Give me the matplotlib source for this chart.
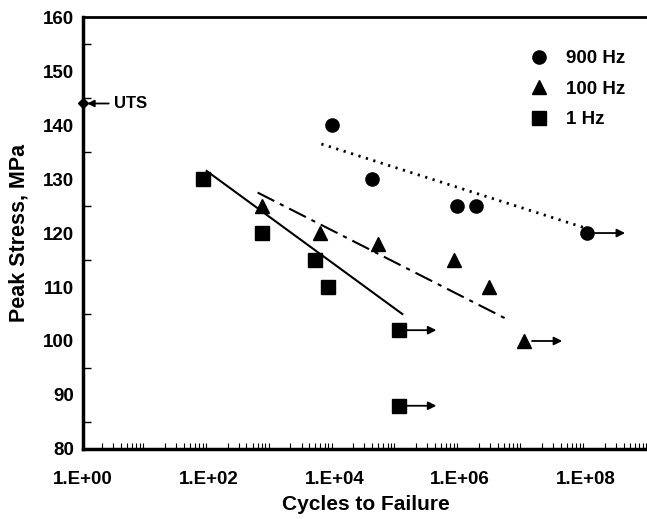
import numpy as np
import matplotlib.pyplot as plt
from matplotlib.ticker import LogLocator, FixedLocator, MultipleLocator

plt.rcParams['font.family'] = ['Liberation Sans', 'DejaVu Sans']
plt.rcParams['font.weight'] = 'bold'

# data
n_900 = [9e3, 4e4, 9e5, 1.8e6, 1.05e8]
s_900 = [140, 130, 125, 125, 120]
n_100 = [700, 6e3, 5e4, 8e5, 2.9e6, 1.05e7]
s_100 = [125, 120, 118, 115, 110, 100]
n_1 = [80, 700, 5e3, 8e3, 1.05e5, 1.05e5]
s_1 = [130, 120, 115, 110, 102, 88]

# runouts (arrow to the right)
run_n = [1.05e8, 1.05e7, 1.05e5, 1.05e5]
run_s = [120, 100, 102, 88]

# trend lines
fit_1_n = [93, 1.2e5]
fit_1_s = [131.5, 105]
fit_100_n = [600, 5.6e6]
fit_100_s = [127.5, 104]
fit_900_n = [6.2e3, 9.3e7]
fit_900_s = [136.5, 121]

uts_n = 1.0
uts_s = 144

fig = plt.figure(figsize=(6.47, 5.19), dpi=100)
ax = fig.add_axes([0.128, 0.135, 0.875, 0.832])

ax.plot(fit_1_n, fit_1_s, 'k-', lw=1.5)
ax.plot(fit_100_n, fit_100_s, color='k', lw=1.5, ls=(0, (9, 3, 2, 3)))
ax.plot(fit_900_n, fit_900_s, color='k', lw=2, ls=(0, (0.8, 2)))

ax.plot(n_900, s_900, 'ko', ms=9.5, ls='none', label='900 Hz')
ax.plot(n_100, s_100, 'k^', ms=9.5, ls='none', label='100 Hz')
ax.plot(n_1, s_1, 'ks', ms=9.5, ls='none', label='1 Hz')

for n, s in zip(run_n, run_s):
    ax.annotate('', xy=(n * 10**0.6, s), xytext=(n * 10**0.12, s),
                arrowprops=dict(arrowstyle='-|>', color='k', lw=1.3,
                                mutation_scale=12, shrinkA=0, shrinkB=0))

ax.plot([uts_n], [uts_s], 'kD', ms=5, clip_on=False, zorder=5)
ax.annotate('UTS', xy=(uts_n * 10**0.07, uts_s), xytext=(uts_n * 10**0.5, uts_s),
            fontsize=12, fontweight='bold', va='center',
            arrowprops=dict(arrowstyle='-|>', color='k', lw=1.3,
                            mutation_scale=10, shrinkA=2, shrinkB=0))

ax.set_xscale('log')
ax.set_xlim(1, 1e9)
ax.set_ylim(80, 160)

ax.xaxis.set_major_locator(FixedLocator([1, 1e2, 1e4, 1e6, 1e8]))
ax.xaxis.set_minor_locator(LogLocator(base=10, subs=np.arange(2, 10), numticks=20))
ax.set_xticklabels(['1.E+00', '1.E+02', '1.E+04', '1.E+06', '1.E+08'])
ax.yaxis.set_major_locator(MultipleLocator(10))
ax.yaxis.set_minor_locator(MultipleLocator(5))

ax.tick_params(axis='both', which='both', direction='in', labelsize=13.5)
ax.tick_params(axis='x', which='major', length=0, pad=16)
ax.tick_params(axis='x', which='minor', length=4, width=0.8)
ax.tick_params(axis='y', which='major', length=0, pad=6)
ax.tick_params(axis='y', which='minor', length=6, width=1)

for sp in ['left', 'bottom']:
    ax.spines[sp].set_linewidth(2.5)
ax.spines['top'].set_linewidth(2)
ax.spines['right'].set_visible(False)

ax.set_xlabel('Cycles to Failure', fontsize=15, fontweight='bold', labelpad=5)
ax.set_ylabel('Peak Stress, MPa', fontsize=15.5, fontweight='bold', labelpad=10)

leg = ax.legend(loc='upper left', bbox_to_anchor=(530 / 647, 1 - 50 / 519),
                bbox_transform=fig.transFigure, frameon=False, borderpad=0,
                borderaxespad=0, fontsize=13.5, handletextpad=0.9,
                labelspacing=0.72, handlelength=1)

fig.savefig('out.png', dpi=100)
